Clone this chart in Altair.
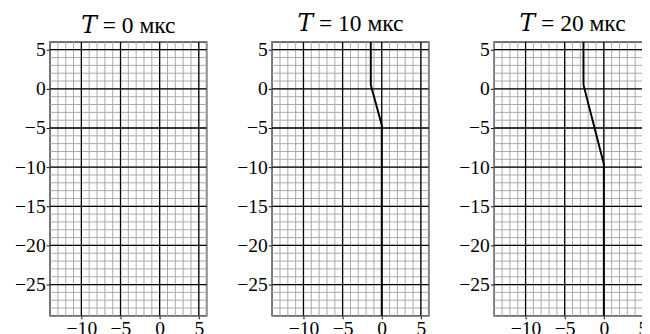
import altair as alt
import pandas as pd

times = ["0", "10", "20"]
minor_x = list(range(-14, 7))
minor_y = list(range(-29, 7))
major_x = [-10, -5, 0, 5]
major_y = [5, 0, -5, -10, -15, -20, -25]

# profile lines: x values and y values for each panel
line_x = {"0": [], "10": [-1.4, -1.4, 0, 0], "20": [-2.6, -2.6, 0, 0]}
line_y = {"0": [], "10": [6, 0.5, -4.6, -29], "20": [6, 0.5, -9.6, -29]}

XD = [-14, 6]
YD = [-29, 6]
FONT = "Liberation Serif, DejaVu Serif, serif"

def panel(t):
    xs = alt.Scale(domain=XD, nice=False, zero=False)
    ys = alt.Scale(domain=YD, nice=False, zero=False)
    xa = alt.Axis(values=major_x, grid=False, tickSize=3, labelPadding=0, title=None)
    ya = alt.Axis(values=major_y, grid=False, tickSize=4, labelPadding=1, title=None)
    base_x = alt.X("v:Q", scale=xs, axis=xa)
    base_y = alt.Y("v:Q", scale=ys, axis=ya)
    mnx = alt.Chart(pd.DataFrame({"v": minor_x})).mark_rule(color="#a8a8a8", strokeWidth=1).encode(x=base_x)
    mny = alt.Chart(pd.DataFrame({"v": minor_y})).mark_rule(color="#a8a8a8", strokeWidth=1).encode(y=base_y)
    mjx = alt.Chart(pd.DataFrame({"v": major_x})).mark_rule(color="black", strokeWidth=1.3).encode(x=base_x)
    mjy = alt.Chart(pd.DataFrame({"v": major_y})).mark_rule(color="black", strokeWidth=1.3).encode(y=base_y)
    layers = [mnx, mny, mjx, mjy]
    if line_x[t]:
        df = pd.DataFrame({"x": line_x[t], "y": line_y[t], "o": list(range(len(line_x[t])))})
        ln = alt.Chart(df).mark_line(color="black", strokeWidth=2).encode(
            x=alt.X("x:Q", scale=xs, axis=xa),
            y=alt.Y("y:Q", scale=ys, axis=ya),
            order="o:O")
        layers.append(ln)
    return alt.layer(*layers).properties(
        width=160, height=280,
        title=alt.TitleParams(f"\U0001D447 = {t} мкс", font=FONT, fontSize=24,
                              fontWeight="normal", color="black", offset=2))

chart = alt.hconcat(*[panel(t) for t in times], spacing=27).configure_view(
    stroke="black", strokeWidth=1.5
).configure_axis(
    labelFont=FONT, labelFontSize=20, labelColor="black", tickColor="black",
    domain=False
).properties(
    padding={"left": 5, "top": 0, "right": -11, "bottom": -4},
    background="white"
)

chart.save("out.html", embed_options={"renderer": "svg", "actions": False})
